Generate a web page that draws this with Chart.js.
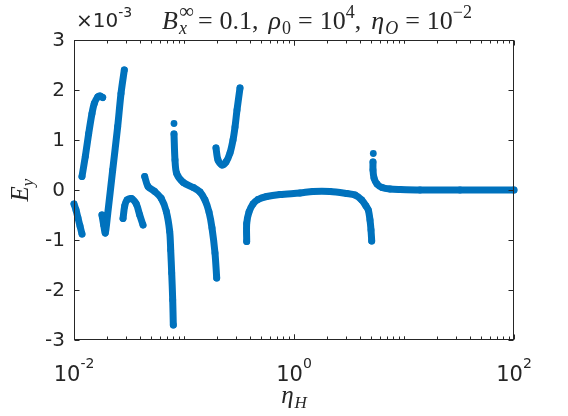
<!DOCTYPE html>
<html>
<head>
<meta charset="utf-8">
<script src="https://cdn.jsdelivr.net/npm/chart.js@4/dist/chart.umd.min.js"></script>
<style>
  html, body { margin: 0; padding: 0; background: #fff; }
  #wrap { width: 568px; height: 416px; }
</style>
</head>
<body>
<div id="wrap"><canvas id="eyChart" width="568" height="416"></canvas></div>
<script>
// E_y branches (in units of 1e-3) against eta_H
const branchA_x = [0.0100, 0.01043, 0.01087, 0.01134, 0.01182];
const branchA_y = [-0.28, -0.40, -0.56, -0.72, -0.88];

const branchB_x = [0.01182, 0.01267, 0.0136, 0.01457, 0.01529, 0.01642, 0.01723, 0.01823];
const branchB_y = [0.27, 0.67, 1.13, 1.53, 1.73, 1.86, 1.88, 1.85];

const branchC_x = [0.01796, 0.01862, 0.01925, 0.02024, 0.02248, 0.02496, 0.02675, 0.02866];
const branchC_y = [-0.50, -0.70, -0.86, -0.48, 0.40, 1.27, 1.93, 2.40];

const branchD_x = [0.02791, 0.02890, 0.03033, 0.03318, 0.03685, 0.03957, 0.04240];
const branchD_y = [-0.57, -0.32, -0.20, -0.17, -0.28, -0.50, -0.70];

const branchE_x = [0.04393, 0.04707, 0.05416, 0.06218, 0.06905, 0.07413, 0.07570, 0.07731, 0.07895, 0.07993];
const branchE_y = [0.27, 0.07, -0.03, -0.17, -0.43, -0.83, -1.20, -1.66, -2.20, -2.70];

const branchF_x = [0.08111, 0.08282, 0.08581, 0.09854, 0.1215, 0.1398, 0.1552, 0.1688, 0.1797, 0.1913, 0.1983];
const branchF_y = [1.12, 0.60, 0.33, 0.15, 0.05, -0.04, -0.20, -0.44, -0.76, -1.26, -1.76];

const branchG_x = [0.1954, 0.2037, 0.2216, 0.2409, 0.2619, 0.2790, 0.2909, 0.3033, 0.3229];
const branchG_y = [0.84, 0.60, 0.50, 0.56, 0.74, 1.00, 1.26, 1.60, 2.04];

const branchH_x = [0.3715, 0.3715, 0.3898, 0.4240, 0.4706, 0.5648, 0.7458, 1.134, 1.488, 2.125, 3.014, 3.585, 4.126, 4.512, 4.736, 4.908, 5.012, 5.087];
const branchH_y = [-1.03, -0.67, -0.44, -0.28, -0.19, -0.13, -0.09, -0.06, -0.03, -0.03, -0.07, -0.10, -0.20, -0.32, -0.40, -0.60, -0.80, -1.02];

const branchI_x = [5.226, 5.226, 5.337, 5.682, 6.310, 7.458, 9.197, 13.98, 32.29, 100];
const branchI_y = [0.56, 0.40, 0.24, 0.12, 0.05, 0.02, 0.01, 0.0, 0.0, 0.0];

// lone points just above the F and I branches
const loneDots_x = [0.08111, 5.259];
const loneDots_y = [1.33, 0.73];

const yTicks = [-3, -2, -1, 0, 1, 2, 3];
const xTicks = [0.01, 1, 100];
const xTickExp = ['-2', '0', '2'];

const blue = '#0072BD';
const axisColor = '#262626';

function toPoints(xs, ys) {
    return xs.map((x, i) => ({ x: x, y: ys[i] }));
}

function branch(xs, ys) {
    return {
        data: toPoints(xs, ys),
        showLine: true,
        borderColor: blue,
        backgroundColor: blue,
        borderWidth: 7,
        borderCapStyle: 'round',
        borderJoinStyle: 'round',
        tension: 0.3,
        pointRadius: 3.4,
        pointBorderWidth: 0,
        clip: false
    };
}

// draw a run of text pieces (for sub/superscripts)
function drawRich(ctx, x, y, parts, measureOnly) {
    let cx = x;
    parts.forEach(p => {
        ctx.font = p.f;
        cx += p.pre || 0;
        const w = ctx.measureText(p.t).width;
        if (!measureOnly) ctx.fillText(p.t, cx, y + (p.dy || 0));
        if (!p.stack) cx += w + (p.gap || 0);
    });
    return cx - x;
}

const serif = '"Liberation Serif", "DejaVu Serif", serif';
const sans = '"DejaVu Sans", sans-serif';

const decorPlugin = {
    id: 'decor',
    afterDraw(chart) {
        const ctx = chart.ctx;
        const a = chart.chartArea;
        const xs = chart.scales.x;
        const ys = chart.scales.y;
        ctx.save();
        ctx.strokeStyle = axisColor;
        ctx.fillStyle = axisColor;
        ctx.lineWidth = 1;

        // box
        const L = Math.round(a.left) + 0.5, R = Math.round(a.right) - 0.5;
        const T = Math.round(a.top) + 0.5, B = Math.round(a.bottom) - 0.5;
        ctx.strokeRect(L, T, R - L, B - T);

        // y ticks
        ctx.beginPath();
        yTicks.forEach(v => {
            const py = Math.round(ys.getPixelForValue(v)) + 0.5;
            ctx.moveTo(L, py); ctx.lineTo(L + 5, py);
            ctx.moveTo(R, py); ctx.lineTo(R - 5, py);
        });
        // x ticks, major and minor
        for (let k = -2; k < 2; k++) {
            for (let m = 1; m <= 10; m++) {
                const v = m * Math.pow(10, k);
                const px = Math.round(xs.getPixelForValue(v)) + 0.5;
                const major = xTicks.some(t => Math.abs(t - v) < 1e-9);
                const len = major ? 5 : 3;
                ctx.moveTo(px, B); ctx.lineTo(px, B - len);
                ctx.moveTo(px, T); ctx.lineTo(px, T + len);
            }
        }
        ctx.stroke();

        // y tick labels
        ctx.font = '20px ' + sans;
        ctx.textAlign = 'right';
        ctx.textBaseline = 'middle';
        yTicks.forEach(v => {
            ctx.fillText(String(v), a.left - 9, ys.getPixelForValue(v) + 1);
        });

        // x tick labels 10^k
        ctx.textAlign = 'left';
        ctx.textBaseline = 'alphabetic';
        xTicks.forEach((v, i) => {
            const parts = [
                { t: '10', f: '21px ' + sans },
                { t: xTickExp[i], f: '14px ' + sans, dy: -13 }
            ];
            const w = drawRich(ctx, 0, 0, parts, true);
            drawRich(ctx, xs.getPixelForValue(v) - w / 2, 381, parts);
        });

        // exponent label
        drawRich(ctx, 76, 27, [
            { t: '\u00d710', f: '20px ' + sans },
            { t: '-3', f: '14px ' + sans, dy: -10 }
        ]);

        // title
        const it = 'italic 26px ' + serif, rm = '26px ' + serif;
        const itS = 'italic 18px ' + serif, rmS = '18px ' + serif;
        const title = [
            { t: 'B', f: it, gap: 1 },
            { t: '\u221e', f: '21px ' + serif, dy: -11, stack: true },
            { t: 'x', f: itS, dy: 5, gap: 4 },
            { t: '=', f: rm, pre: 7, gap: 7 },
            { t: '0.1,', f: rm, gap: 10 },
            { t: '\u03c1', f: it, gap: 1 },
            { t: '0', f: rmS, dy: 5 },
            { t: '=', f: rm, pre: 7, gap: 7 },
            { t: '10', f: rm },
            { t: '4', f: rmS, dy: -11 },
            { t: ',', f: rm, gap: 10 },
            { t: '\u03b7', f: it, gap: 1 },
            { t: 'O', f: itS, dy: 5 },
            { t: '=', f: rm, pre: 7, gap: 7 },
            { t: '10', f: rm },
            { t: '\u22122', f: rmS, dy: -11 }
        ];
        const tw = drawRich(ctx, 0, 0, title, true);
        drawRich(ctx, 317 - tw / 2, 29, title);

        // x axis label
        const xl = [
            { t: '\u03b7', f: 'italic 25px ' + serif, gap: 1 },
            { t: 'H', f: 'italic 17px ' + serif, dy: 5 }
        ];
        const xw = drawRich(ctx, 0, 0, xl, true);
        drawRich(ctx, (a.left + a.right) / 2 - xw / 2, 403, xl);

        // y axis label
        ctx.translate(28, (a.top + a.bottom) / 2);
        ctx.rotate(-Math.PI / 2);
        const yl = [
            { t: 'E', f: 'italic 25px ' + serif },
            { t: 'y', f: 'italic 17px ' + serif, dy: 5 }
        ];
        const yw = drawRich(ctx, 0, 0, yl, true);
        drawRich(ctx, -yw / 2, 0, yl);
        ctx.restore();
    }
};

const ctx = document.getElementById('eyChart').getContext('2d');
const eyChart = new Chart(ctx, {
    type: 'scatter',
    data: {
        datasets: [
            branch(branchA_x, branchA_y),
            branch(branchB_x, branchB_y),
            branch(branchC_x, branchC_y),
            branch(branchD_x, branchD_y),
            branch(branchE_x, branchE_y),
            branch(branchF_x, branchF_y),
            branch(branchG_x, branchG_y),
            branch(branchH_x, branchH_y),
            branch(branchI_x, branchI_y),
            {
                data: toPoints(loneDots_x, loneDots_y),
                backgroundColor: blue,
                pointRadius: 3.4,
                pointBorderWidth: 0,
                clip: false
            }
        ]
    },
    options: {
        responsive: false,
        animation: false,
        layout: {
            padding: { left: 74, right: 54, top: 40, bottom: 76 }
        },
        plugins: {
            legend: { display: false },
            tooltip: { enabled: false }
        },
        scales: {
            x: { type: 'logarithmic', min: 0.01, max: 100, display: false },
            y: { type: 'linear', min: -3, max: 3, display: false }
        }
    },
    plugins: [decorPlugin]
});
</script>
</body>
</html>
